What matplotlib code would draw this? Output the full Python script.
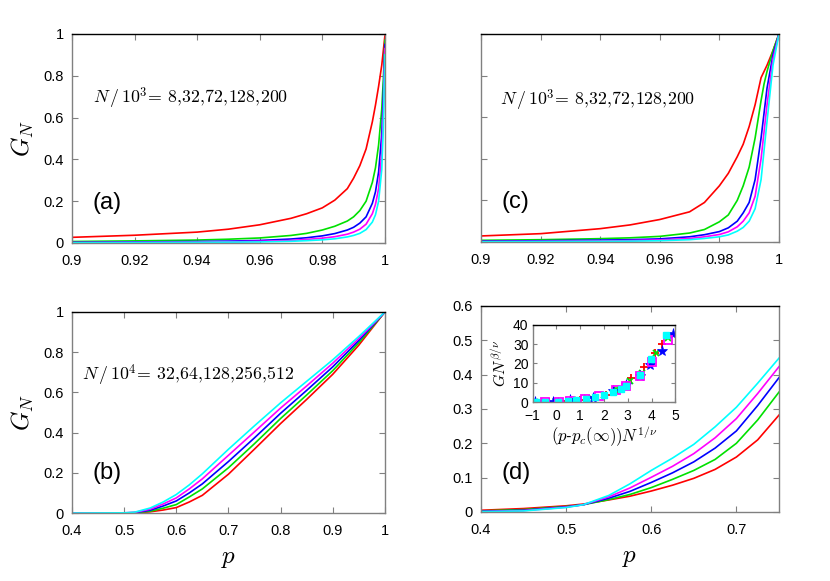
import matplotlib
matplotlib.use("Agg")
import matplotlib.pyplot as plt

plt.rcParams["font.family"] = ["Liberation Sans", "DejaVu Sans"]
plt.rcParams["mathtext.fontset"] = "cm"

colors = ["#ff0000", "#00e000", "#0000ff", "#ff00ff", "#00ffff"]

# panel (a)
p_a = [0.9, 0.92, 0.94, 0.95, 0.96, 0.97, 0.975, 0.98, 0.984, 0.988, 0.99, 0.992, 0.994,
       0.996, 0.997, 0.998, 0.999, 0.9995, 1.0]
a_red = [0.027, 0.037, 0.052, 0.066, 0.087, 0.118, 0.14, 0.168, 0.205, 0.26, 0.31, 0.37, 0.45,
         0.58, 0.66, 0.75, 0.85, 0.92, 0.99]
a_green = [0.007, 0.010, 0.014, 0.018, 0.024, 0.036, 0.046, 0.062, 0.08, 0.105, 0.125, 0.155, 0.2,
           0.29, 0.36, 0.47, 0.64, 0.78, 0.97]
a_blue = [0.003, 0.005, 0.007, 0.009, 0.012, 0.019, 0.025, 0.034, 0.045, 0.062, 0.075, 0.095, 0.125,
          0.19, 0.245, 0.34, 0.52, 0.7, 0.95]
a_magenta = [0.002, 0.003, 0.004, 0.006, 0.008, 0.012, 0.017, 0.023, 0.03, 0.042, 0.052, 0.066, 0.09,
             0.14, 0.185, 0.26, 0.43, 0.63, 0.93]
a_cyan = [0.001, 0.002, 0.003, 0.004, 0.005, 0.008, 0.011, 0.015, 0.02, 0.029, 0.036, 0.046, 0.064,
          0.1, 0.135, 0.2, 0.35, 0.55, 0.9]

# panel (c)
p_c = [0.9, 0.92, 0.94, 0.95, 0.96, 0.97, 0.975, 0.98, 0.983, 0.986, 0.988, 0.99, 0.992, 0.994,
       0.995, 0.996, 0.998, 1.0]
c_red = [0.029, 0.04, 0.064, 0.082, 0.108, 0.145, 0.19, 0.27, 0.33, 0.41, 0.47, 0.555, 0.66, 0.79,
         0.82, 0.85, 0.92, 1.0]
c_green = [0.008, 0.011, 0.016, 0.02, 0.027, 0.043, 0.06, 0.097, 0.13, 0.2, 0.27, 0.36, 0.5, 0.68,
           0.76, 0.82, 0.92, 1.0]
c_blue = [0.004, 0.006, 0.009, 0.011, 0.015, 0.025, 0.035, 0.05, 0.068, 0.1, 0.14, 0.19, 0.3, 0.5,
          0.62, 0.74, 0.9, 1.0]
c_magenta = [0.002, 0.003, 0.005, 0.007, 0.01, 0.017, 0.025, 0.036, 0.049, 0.073, 0.1, 0.14, 0.22,
             0.4, 0.53, 0.66, 0.88, 1.0]
c_cyan = [0.001, 0.002, 0.003, 0.004, 0.006, 0.011, 0.017, 0.025, 0.034, 0.052, 0.07, 0.1, 0.16,
          0.3, 0.44, 0.58, 0.85, 1.0]

# panel (b)
p_b = [0.4, 0.5, 0.52, 0.55, 0.575, 0.6, 0.625, 0.65, 0.7, 0.75, 0.8, 0.85, 0.9, 0.95, 1.0]
b_red = [0, 0.0002, 0.001, 0.006, 0.015, 0.027, 0.055, 0.088, 0.193, 0.318, 0.445, 0.565, 0.69, 0.835, 1.0]
b_green = [0, 0.0003, 0.0015, 0.009, 0.024, 0.042, 0.08, 0.12, 0.225, 0.345, 0.47, 0.587, 0.708, 0.847, 1.0]
b_blue = [0, 0.0005, 0.002, 0.014, 0.035, 0.06, 0.1, 0.145, 0.256, 0.374, 0.496, 0.61, 0.727, 0.858, 1.0]
b_magenta = [0, 0.001, 0.003, 0.019, 0.045, 0.075, 0.12, 0.17, 0.287, 0.404, 0.522, 0.632, 0.745, 0.868, 1.0]
b_cyan = [0, 0.001, 0.004, 0.025, 0.055, 0.092, 0.14, 0.195, 0.317, 0.434, 0.548, 0.655, 0.762, 0.878, 1.0]

# panel (d)
p_d = [0.4, 0.45, 0.5, 0.52, 0.55, 0.575, 0.6, 0.625, 0.65, 0.675, 0.7, 0.725, 0.75]
d_red = [0.005, 0.01, 0.018, 0.023, 0.035, 0.046, 0.061, 0.078, 0.098, 0.124, 0.16, 0.21, 0.282]
d_green = [0.003, 0.007, 0.016, 0.021, 0.036, 0.051, 0.071, 0.095, 0.121, 0.153, 0.2, 0.268, 0.349]
d_blue = [0.002, 0.005, 0.015, 0.021, 0.04, 0.06, 0.086, 0.114, 0.146, 0.186, 0.236, 0.31, 0.391]
d_magenta = [0.001, 0.004, 0.014, 0.021, 0.044, 0.07, 0.101, 0.133, 0.17, 0.216, 0.272, 0.345, 0.423]
d_cyan = [0.001, 0.003, 0.013, 0.021, 0.048, 0.082, 0.121, 0.157, 0.197, 0.248, 0.305, 0.375, 0.448]

# inset of (d): scaling collapse
ins_red_x = [-1.1, -0.3, 0.4, 1.0, 1.6, 2.1, 2.6, 3.15, 3.7, 4.15, 4.45]
ins_red_y = [0, 0.1, 0.5, 1.0, 2.5, 4, 6.5, 12.5, 18, 25.5, 30]
ins_green_x = [-0.7, 0.0, 0.7, 1.3, 2.0, 2.5, 3.1, 3.6, 4.2, 4.7]
ins_green_y = [0.2, 0.5, 1.0, 2.0, 4.0, 6.7, 11, 15, 25.5, 33]
ins_blue_x = [-0.9, -0.14, 0.56, 1.53, 2.36, 2.92, 3.5, 3.93, 4.42, 4.89]
ins_blue_y = [0, 0.3, 1.0, 2.4, 6.0, 8.9, 13.8, 19.3, 26.4, 35.3]
ins_magenta_x = [-0.49, 0.1, 0.56, 1.18, 1.8, 2.5, 2.92, 3.5, 4.0, 4.68]
ins_magenta_y = [0, 0.3, 0.9, 1.7, 3.1, 6.5, 8.6, 13.3, 21, 32.2]
ins_cyan_x = [-0.88, -0.49, 0.07, 0.49, 0.83, 1.25, 1.64, 2.01, 2.36, 2.7, 2.92, 3.5, 3.99, 4.63]
ins_cyan_y = [0, 0.2, 0.35, 0.9, 1.2, 1.7, 2.6, 3.8, 5.2, 6.9, 8.6, 14.3, 22.4, 34.8]

xt_a = [0.9, 0.92, 0.94, 0.96, 0.98, 1.0]
xl_a = ["0.9", "0.92", "0.94", "0.96", "0.98", "1"]
yt_top = [0, 0.2, 0.4, 0.6, 0.8, 1.0]
yl_top = ["0", "0.2", "0.4", "0.6", "0.8", "1"]
xt_b = [0.4, 0.5, 0.6, 0.7, 0.8, 0.9, 1.0]
xl_b = ["0.4", "0.5", "0.6", "0.7", "0.8", "0.9", "1"]
xt_d = [0.4, 0.5, 0.6, 0.7]
yt_d = [0, 0.1, 0.2, 0.3, 0.4, 0.5, 0.6]
yl_d = ["0", "0.1", "0.2", "0.3", "0.4", "0.5", "0.6"]

fig = plt.figure(figsize=(8.3, 5.81), dpi=100)
ax_a = fig.add_axes([0.0867, 0.5818, 0.377, 0.3597])
ax_c = fig.add_axes([0.5795, 0.5835, 0.359, 0.358])
ax_b = fig.add_axes([0.0867, 0.117, 0.377, 0.346])
ax_d = fig.add_axes([0.5795, 0.1188, 0.359, 0.3546])
ax_in = fig.add_axes([0.6418, 0.3076, 0.1718, 0.1336])


def style(ax, fs=10.5):
    ax.tick_params(direction="in", top=True, right=True, length=4, width=0.8,
                   labelsize=fs, color="#808080")
    ax.tick_params(axis="x", pad=8)
    ax.tick_params(axis="y", pad=6)
    for side in ["left", "right", "bottom"]:
        ax.spines[side].set_color("#808080")
    ax.spines["top"].set_color("black")
    for s in ax.spines.values():
        s.set_linewidth(1.0)


for ax, p, ys in [
    (ax_a, p_a, [a_red, a_green, a_blue, a_magenta, a_cyan]),
    (ax_c, p_c, [c_red, c_green, c_blue, c_magenta, c_cyan]),
    (ax_b, p_b, [b_red, b_green, b_blue, b_magenta, b_cyan]),
    (ax_d, p_d, [d_red, d_green, d_blue, d_magenta, d_cyan]),
]:
    for y, col in zip(ys, colors):
        ax.plot(p, y, color=col, lw=1.2)
    style(ax)

# top row
for ax in [ax_a, ax_c]:
    ax.set_xlim(0.9, 1.0)
    ax.set_ylim(0, 1)
    ax.set_xticks(xt_a)
    ax.set_xticklabels(xl_a)
    ax.set_yticks(yt_top)
ax_a.set_yticklabels(yl_top)
ax_c.set_yticklabels([])

ax_b.set_xlim(0.4, 1.0)
ax_b.set_ylim(0, 1)
ax_b.set_xticks(xt_b)
ax_b.set_xticklabels(xl_b)
ax_b.set_yticks(yt_top)
ax_b.set_yticklabels(yl_top)

ax_d.set_xlim(0.4, 0.75)
ax_d.set_ylim(0, 0.6)
ax_d.set_xticks(xt_d)
ax_d.set_xticklabels([str(v) for v in xt_d])
ax_d.set_yticks(yt_d)
ax_d.set_yticklabels(yl_d)

for ax in [ax_a, ax_b]:
    ax.set_ylabel(r"$G_N$", fontsize=18, labelpad=5)
for ax in [ax_b, ax_d]:
    ax.set_xlabel(r"$p$", fontsize=18, labelpad=6)

ann3 = r"$N\,/\,10^3\!=\,8,\!32,\!72,\!128,\!200$"
ann4 = r"$N\,/\,10^4\!=\,32,\!64,\!128,\!256,\!512$"
ax_a.text(0.067, 0.69, ann3, transform=ax_a.transAxes, fontsize=12.8, va="center")
ax_c.text(0.064, 0.68, ann3, transform=ax_c.transAxes, fontsize=12.8, va="center")
ax_b.text(0.032, 0.686, ann4, transform=ax_b.transAxes, fontsize=12.8, va="center")

for ax, lab, xy in [(ax_a, "(a)", (0.067, 0.19)), (ax_c, "(c)", (0.07, 0.19)),
                    (ax_b, "(b)", (0.067, 0.2)), (ax_d, "(d)", (0.07, 0.19))]:
    ax.text(xy[0], xy[1], lab, transform=ax.transAxes, fontsize=17, va="center")

# inset
ax_in.plot(ins_red_x, ins_red_y, "+", color=colors[0], ms=6, mew=1.3)
ax_in.plot(ins_green_x, ins_green_y, "x", color=colors[1], ms=5, mew=1.3)
ax_in.plot(ins_blue_x, ins_blue_y, "*", color=colors[2], ms=8, mew=0.5)
ax_in.plot(ins_magenta_x, ins_magenta_y, "s", color=colors[3], mfc="none", ms=6, mew=1.3)
ax_in.plot(ins_cyan_x, ins_cyan_y, "s", color=colors[4], ms=5)
ax_in.set_xlim(-1, 5)
ax_in.set_ylim(0, 40)
ax_in.set_xticks([-1, 0, 1, 2, 3, 4, 5])
ax_in.set_yticks([0, 10, 20, 30, 40])
style(ax_in, fs=10)
ax_in.tick_params(length=3)
ax_in.tick_params(axis="x", pad=5)
ax_in.tick_params(axis="y", pad=3)
ax_in.set_xlabel(r"$(p$-$p_c(\infty))N^{1/\nu}$", fontsize=12, labelpad=1)
ax_in.set_ylabel(r"$GN^{\beta/\nu}$", fontsize=11.5, labelpad=3)

fig.savefig("out.png", dpi=100)
